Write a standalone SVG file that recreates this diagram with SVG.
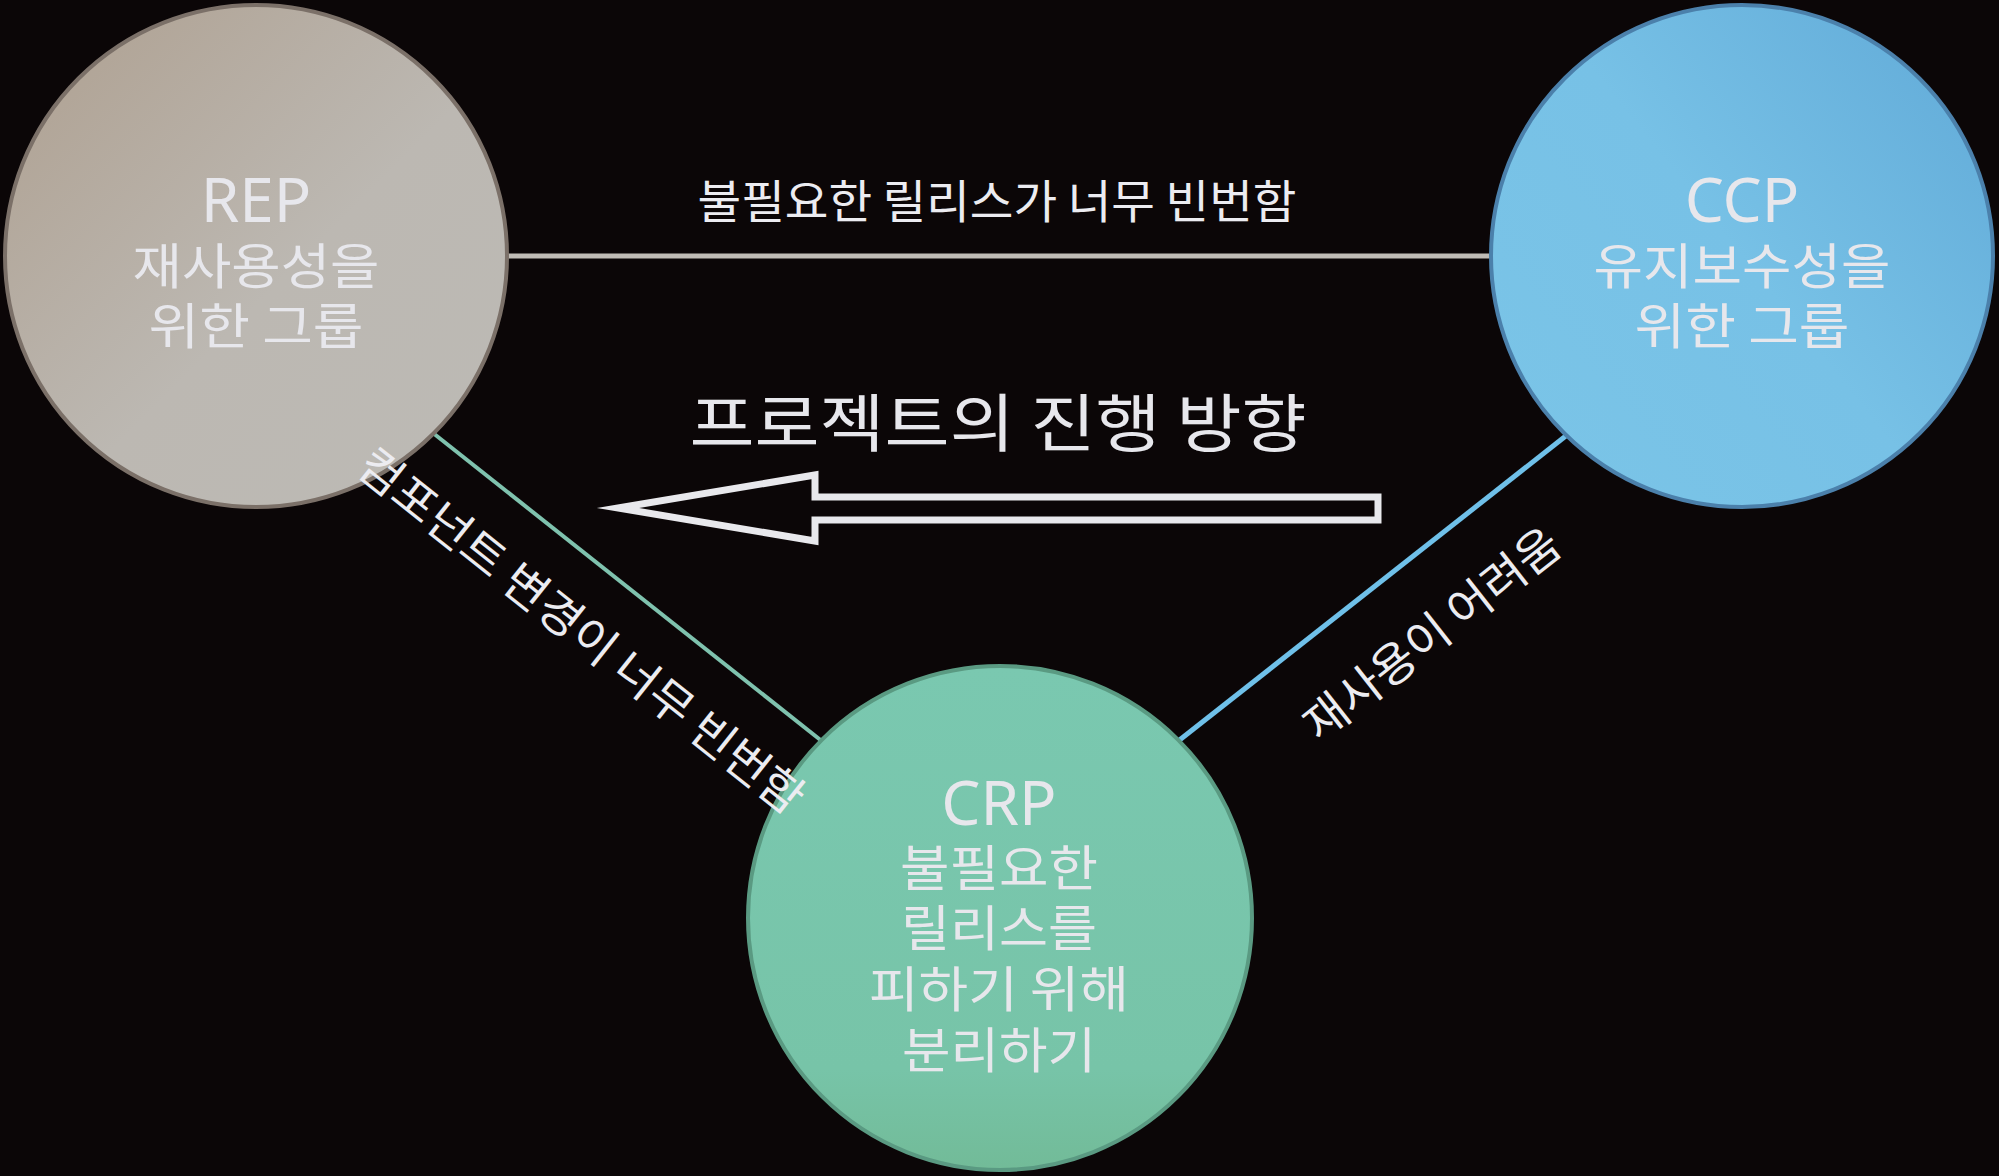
<svg xmlns="http://www.w3.org/2000/svg" width="1999" height="1176" viewBox="0 0 1999 1176">
<style>
.ko{font-family:"Noto Sans CJK KR","Noto Sans",sans-serif;fill:#e7e7ec}
.lat{font-family:"Noto Sans","Open Sans",sans-serif;fill:#e7e7ec}
.nt{font-size:49px;text-anchor:middle}
.ttl{font-size:62px;text-anchor:middle}
.lbl{font-size:46px;text-anchor:middle;fill:#ececf1}
</style>
<defs>
<linearGradient id="gRep" x1="0" y1="0" x2="1" y2="1">
<stop offset="0" stop-color="#ae9f8f"/>
<stop offset="0.55" stop-color="#bcb8b2"/>
<stop offset="1" stop-color="#bcbab5"/>
</linearGradient>
<linearGradient id="gCcp" x1="1" y1="0" x2="0" y2="0.8">
<stop offset="0" stop-color="#60a9d7"/>
<stop offset="0.55" stop-color="#77c1e6"/>
<stop offset="1" stop-color="#7ac4e7"/>
</linearGradient>
<linearGradient id="gCrp" x1="0" y1="0" x2="0" y2="1">
<stop offset="0" stop-color="#7ac8b0"/>
<stop offset="0.8" stop-color="#77c4a8"/>
<stop offset="1" stop-color="#72bb98"/>
</linearGradient>
</defs>
<rect width="1999" height="1176" fill="#0b0607"/>
<g id="connectors" fill="none">
<line x1="508" y1="256" x2="1490" y2="256" stroke="#c0bcb6" stroke-width="5"/>
<line x1="433" y1="433" x2="823" y2="742" stroke="#7fc2ae" stroke-width="4"/>
<line x1="1567" y1="435" x2="1177" y2="742" stroke="#6fc0e9" stroke-width="5"/>
</g>
<g id="rep">
<circle cx="256" cy="256" r="251" fill="url(#gRep)" stroke="#7b7068" stroke-width="4"/>
<text class="lat ttl" x="256" y="222">REP</text>
<text class="ko nt" x="256" y="284" textLength="247" lengthAdjust="spacingAndGlyphs">재사용성을</text>
<text class="ko nt" x="256" y="344" textLength="215" lengthAdjust="spacingAndGlyphs">위한 그룹</text>
</g>
<g id="ccp">
<circle cx="1742" cy="256" r="251" fill="url(#gCcp)" stroke="#4b80ab" stroke-width="4"/>
<text class="lat ttl" x="1742" y="222">CCP</text>
<text class="ko nt" x="1742" y="284" textLength="297" lengthAdjust="spacingAndGlyphs">유지보수성을</text>
<text class="ko nt" x="1742" y="344" textLength="215" lengthAdjust="spacingAndGlyphs">위한 그룹</text>
</g>
<g id="crp">
<circle cx="1000" cy="918" r="252" fill="url(#gCrp)" stroke="#5a9a82" stroke-width="4"/>
<text class="lat ttl" x="999" y="825">CRP</text>
<text class="ko nt" x="999" y="886" textLength="198" lengthAdjust="spacingAndGlyphs">불필요한</text>
<text class="ko nt" x="999" y="946" textLength="196" lengthAdjust="spacingAndGlyphs">릴리스를</text>
<text class="ko nt" x="999" y="1007" textLength="260" lengthAdjust="spacingAndGlyphs">피하기 위해</text>
<text class="ko nt" x="999" y="1068" textLength="194" lengthAdjust="spacingAndGlyphs">분리하기</text>
</g>
<g id="labels">
<text class="ko lbl" x="997" y="218" textLength="599" lengthAdjust="spacingAndGlyphs">불필요한 릴리스가 너무 빈번함</text>
<text class="ko lbl" transform="translate(571,644) rotate(38.5)" textLength="555" lengthAdjust="spacingAndGlyphs">컴포넌트 변경이 너무 빈번함</text>
<text class="ko lbl" transform="translate(1442,647) rotate(-38.2)" textLength="312" lengthAdjust="spacingAndGlyphs">재사용이 어려움</text>
</g>
<g id="direction">
<text class="ko" x="998" y="446" font-size="63" text-anchor="middle" textLength="617" lengthAdjust="spacingAndGlyphs">프로젝트의 진행 방향</text>
<polygon points="618,508 815,475 815,497 1378,497 1378,520 815,520 815,541" fill="none" stroke="#e8e8ec" stroke-width="7" stroke-linejoin="miter" stroke-miterlimit="10"/>
</g>
</svg>
